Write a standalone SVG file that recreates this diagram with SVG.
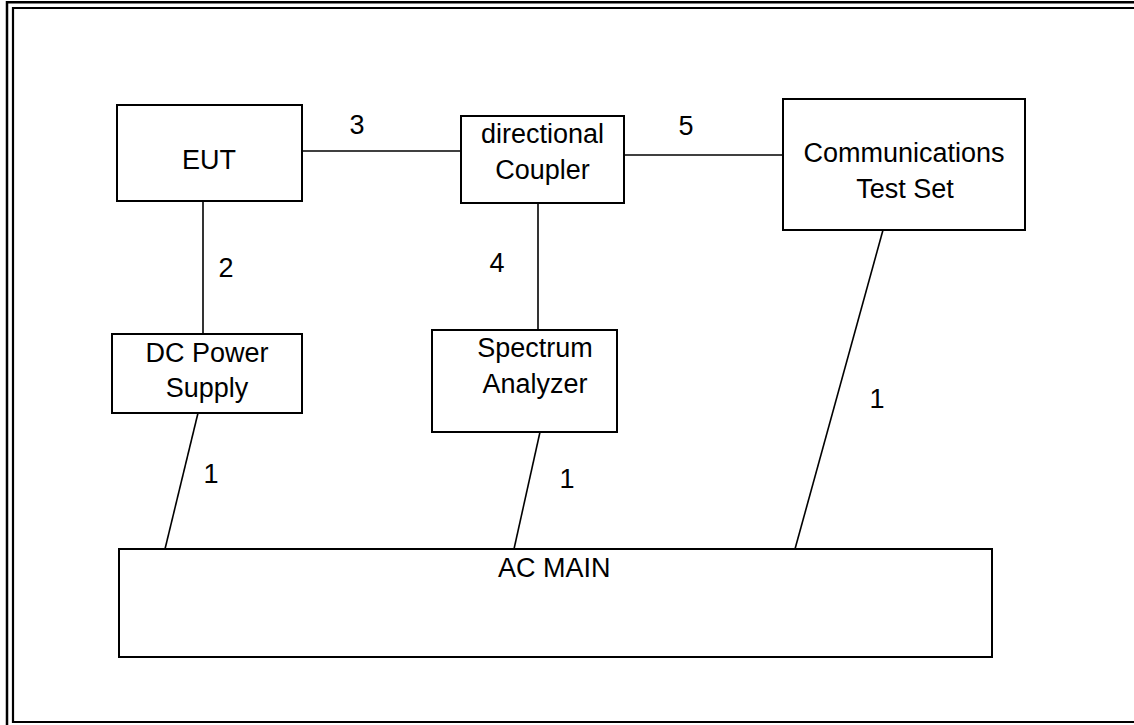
<svg xmlns="http://www.w3.org/2000/svg" width="1134" height="725" viewBox="0 0 1134 725">
<style>
.box{fill:#fff;stroke:#000;stroke-width:2}
.ln{fill:none;stroke:#000;stroke-width:1.6}
.fr{fill:none;stroke:#000}
text{font-family:"Liberation Sans",Arial,sans-serif;font-size:27px;fill:#000}
.c{text-anchor:middle}
</style>
<rect width="1134" height="725" fill="#fff"/>
<g id="frame">
<path class="fr" stroke-width="2.5" d="M7,725 V2.2 H1134"/>
<path class="fr" stroke-width="2.2" d="M1134,8 H13 V722 H1134"/>
</g>
<g id="connectors">
<line class="ln" x1="302" y1="151" x2="461" y2="151"/>
<line class="ln" x1="624" y1="155" x2="783" y2="155"/>
<line class="ln" x1="203" y1="201" x2="203" y2="334"/>
<line class="ln" x1="538" y1="203" x2="538" y2="332"/>
<line class="ln" x1="198" y1="413" x2="165" y2="549"/>
<line class="ln" x1="540" y1="432" x2="514" y2="549"/>
<line class="ln" x1="883" y1="230" x2="795" y2="549"/>
<text class="c" x="357" y="134">3</text>
<text class="c" x="686" y="135">5</text>
<text class="c" x="226" y="277">2</text>
<text class="c" x="497" y="272">4</text>
<text class="c" x="211" y="483">1</text>
<text class="c" x="567" y="488">1</text>
<text class="c" x="877" y="408">1</text>
</g>
<g id="eut">
<rect class="box" x="117" y="105" width="185" height="96"/>
<text class="c" x="209" y="169">EUT</text>
</g>
<g id="coupler">
<rect class="box" x="461" y="116" width="163" height="87"/>
<text class="c" x="542.5" y="143">directional</text>
<text class="c" x="542.5" y="179">Coupler</text>
</g>
<g id="comms">
<rect class="box" x="783" y="99" width="242" height="131"/>
<text class="c" x="904" y="162">Communications</text>
<text class="c" x="905" y="198">Test Set</text>
</g>
<g id="dcpower">
<rect class="box" x="112" y="334" width="190" height="79"/>
<text class="c" x="207" y="362">DC Power</text>
<text class="c" x="207" y="397">Supply</text>
</g>
<g id="spectrum">
<rect class="box" x="432" y="330" width="185" height="102"/>
<text class="c" x="535" y="357">Spectrum</text>
<text class="c" x="535" y="393">Analyzer</text>
</g>
<g id="acmain">
<rect class="box" x="119" y="549" width="873" height="108"/>
<text x="498" y="577">AC MAIN</text>
</g>
</svg>
